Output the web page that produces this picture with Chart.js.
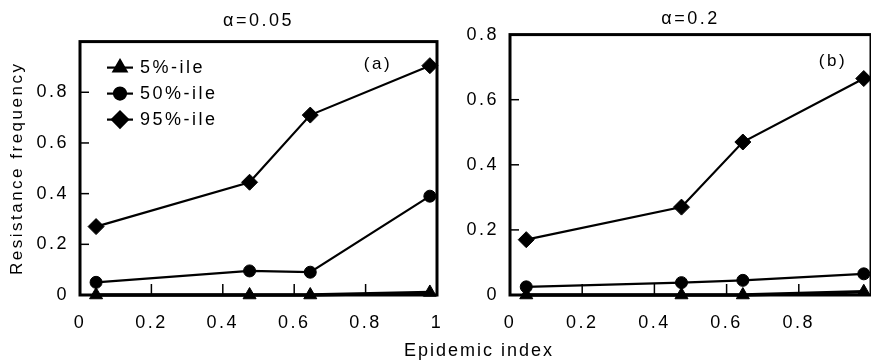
<!DOCTYPE html>
<html>
<head>
<meta charset="utf-8">
<script src="https://cdn.jsdelivr.net/npm/chart.js@4.4.1/dist/chart.umd.min.js"></script>
<style>
  body { margin: 0; background: #fff; width: 871px; height: 362px; overflow: hidden; position: relative; font-family: "Liberation Sans", Arial, sans-serif; }
  #wrapA { position: absolute; left: 0; top: 0; width: 445px; height: 362px; }
  #wrapB { position: absolute; left: 445px; top: 0; width: 426px; height: 362px; }
  #xTitle { position: absolute; left: 369px; width: 220px; top: 340px; text-align: center; font-size: 18px; line-height: 21px; letter-spacing: 2px; color: #000; }
</style>
</head>
<body>
<div id="wrapA"><canvas id="chartA"></canvas></div>
<div id="wrapB"><canvas id="chartB"></canvas></div>
<div id="xTitle">Epidemic index</div>
<script>
const epidemicIndex = [0.045, 0.475, 0.645, 0.98];
const seriesNames = ['5%-ile', '50%-ile', '95%-ile'];
const pointStyles = ['triangle', 'circle', 'rectRot'];
const pointSizes = [7.5, 6, 8];

// panel (a), alpha = 0.05
const lowA = [0, 0, 0, 0.01];
const midA = [0.05, 0.095, 0.09, 0.39];
const highA = [0.27, 0.445, 0.71, 0.905];

// panel (b), alpha = 0.2
const lowB = [0, 0, 0, 0.01];
const midB = [0.025, 0.038, 0.045, 0.065];
const highB = [0.17, 0.27, 0.47, 0.665];

const yTicks = [0, 0.2, 0.4, 0.6, 0.8];
const xTicks = [0, 0.2, 0.4, 0.6, 0.8, 1];

Chart.defaults.font.family = '"Liberation Sans", Arial, sans-serif';
Chart.defaults.color = '#000';

const fmt = v => v === 0 ? '0' : (v === 1 ? '1' : v.toFixed(1));

function makeSet(i, values) {
  return {
    label: seriesNames[i],
    data: epidemicIndex.map((x, k) => ({ x: x, y: values[k] })),
    borderColor: '#000',
    backgroundColor: '#000',
    borderWidth: i === 0 ? 3.5 : 2.2,
    pointStyle: pointStyles[i],
    pointRadius: pointSizes[i],
    pointBorderWidth: 1,
    tension: 0,
    clip: false
  };
}

// spaced-out lettering like the scanned figure
const spacing = {
  id: 'spacing',
  beforeLayout(chart) { chart.ctx.letterSpacing = '2.5px'; },
  beforeDraw(chart) { chart.ctx.letterSpacing = '2.5px'; }
};

// box around plot + inward ticks on both axes
const frame = {
  id: 'frame',
  beforeDatasetsDraw(chart) {
    const a = chart.chartArea;
    const ctx = chart.ctx;
    const xs = chart.scales.x;
    const ys = chart.scales.y;
    ctx.save();
    ctx.strokeStyle = '#000';
    ctx.lineWidth = 3;
    ctx.strokeRect(a.left, a.top, a.right - a.left, a.bottom - a.top);
    ctx.lineWidth = 1.5;
    xTicks.filter(v => v > 0 && v < 1).forEach(v => {
      const px = xs.getPixelForValue(v);
      ctx.beginPath();
      ctx.moveTo(px, a.bottom);
      ctx.lineTo(px, a.bottom - 11);
      ctx.stroke();
    });
    yTicks.filter(v => v > 0 && v < ys.max).forEach(v => {
      const py = ys.getPixelForValue(v);
      ctx.beginPath();
      ctx.moveTo(a.left, py);
      ctx.lineTo(a.left + 9, py);
      ctx.stroke();
    });
    ctx.restore();
  }
};

const panelTag = {
  id: 'panelTag',
  afterDraw(chart, args, opts) {
    const a = chart.chartArea;
    const ctx = chart.ctx;
    ctx.save();
    ctx.font = '17px "Liberation Sans", Arial, sans-serif';
    ctx.fillStyle = '#000';
    ctx.textAlign = 'center';
    ctx.textBaseline = 'middle';
    ctx.fillText(opts.text, a.right - opts.dx, a.top + opts.dy);
    ctx.restore();
  }
};

// legend with line + marker, as in the figure
const lineLegend = {
  id: 'lineLegend',
  afterDraw(chart, args, opts) {
    if (!opts.show) return;
    const a = chart.chartArea;
    const ctx = chart.ctx;
    ctx.save();
    chart.data.datasets.forEach((ds, i) => {
      const y = a.top + 26 + i * 26;
      const x0 = a.left + 27;
      ctx.strokeStyle = '#000';
      ctx.lineWidth = 2.2;
      ctx.beginPath();
      ctx.moveTo(x0, y);
      ctx.lineTo(x0 + 26, y);
      ctx.stroke();
      ctx.fillStyle = '#000';
      Chart.helpers.drawPoint(ctx, { pointStyle: ds.pointStyle, radius: ds.pointRadius, rotation: 0, borderWidth: 1 }, x0 + 13, y);
      ctx.font = '18px "Liberation Sans", Arial, sans-serif';
      ctx.textAlign = 'left';
      ctx.textBaseline = 'middle';
      ctx.fillText(ds.label, x0 + 33, y);
    });
    ctx.restore();
  }
};

function makeChart(id, cfg) {
  return new Chart(document.getElementById(id), {
    type: 'line',
    data: {
      datasets: [makeSet(0, cfg.low), makeSet(1, cfg.mid), makeSet(2, cfg.high)]
    },
    options: {
      responsive: true,
      maintainAspectRatio: false,
      animation: false,
      layout: { autoPadding: false, padding: { top: 0, right: cfg.padRight, bottom: 22, left: 0 } },
      plugins: {
        legend: { display: false },
        tooltip: { enabled: false },
        title: {
          display: true,
          text: cfg.title,
          fullSize: false,
          font: { size: 18, weight: 'normal' },
          padding: { top: cfg.titleTop, bottom: cfg.titleBottom }
        },
        panelTag: { text: cfg.tag, dx: cfg.tagDx, dy: cfg.tagDy },
        lineLegend: { show: cfg.legend }
      },
      scales: {
        x: {
          type: 'linear',
          min: 0,
          max: 1,
          afterBuildTicks: s => { s.ticks = xTicks.map(v => ({ value: v })); },
          ticks: {
            font: { size: 18 },
            padding: 9,
            maxRotation: 0,
            callback: v => (v === 1 && !cfg.showOne) ? '' : fmt(v)
          },
          grid: { display: false },
          border: { display: false },
          afterFit: s => { s.height = 45; s.paddingLeft = 0; s.paddingRight = 0; }
        },
        y: {
          type: 'linear',
          min: 0,
          max: cfg.yMax,
          afterBuildTicks: s => { s.ticks = yTicks.map(v => ({ value: v })); },
          ticks: { font: { size: 18 }, padding: 3, callback: v => fmt(v) },
          grid: { display: false },
          border: { display: false },
          title: {
            display: cfg.yTitle,
            text: 'Resistance frequency',
            font: { size: 17 },
            padding: { top: 7, bottom: 0 }
          },
          afterFit: s => { s.width = cfg.yWidth; s.paddingTop = 0; s.paddingBottom = 0; }
        }
      }
    },
    plugins: [spacing, frame, panelTag, lineLegend]
  });
}

makeChart('chartA', {
  low: lowA, mid: midA, high: highA,
  title: 'α=0.05', titleTop: 10, titleBottom: 10,
  yMax: 1, yWidth: 80, yTitle: true, padRight: 8,
  tag: '(a)', tagDx: 59, tagDy: 23,
  legend: true, showOne: true
});

makeChart('chartB', {
  low: lowB, mid: midB, high: highB,
  title: 'α=0.2', titleTop: 8, titleBottom: 5,
  yMax: 0.8, yWidth: 65, yTitle: false, padRight: 0,
  tag: '(b)', tagDx: 38, tagDy: 27,
  legend: false, showOne: false
});
</script>
</body>
</html>
